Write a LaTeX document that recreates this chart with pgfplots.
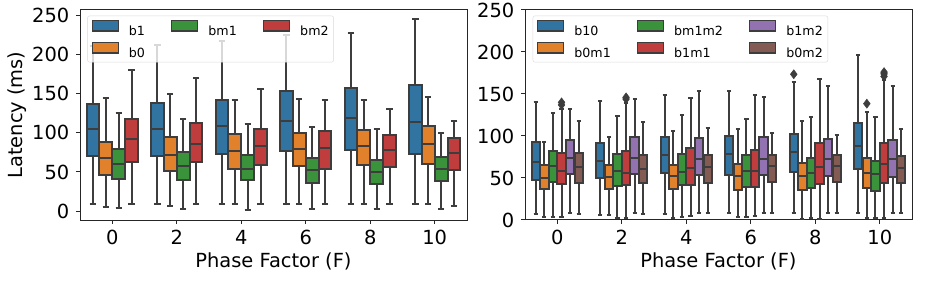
\documentclass[border=0pt]{standalone}
\usepackage{pgfplots}
\pgfplotsset{compat=1.18}
\usepgfplotslibrary{statistics}
\usepackage{fontspec}
\setmainfont{DejaVu Sans}
\definecolor{cB}{RGB}{50,116,161}
\definecolor{cO}{RGB}{225,129,44}
\definecolor{cG}{RGB}{58,146,58}
\definecolor{cR}{RGB}{192,61,62}
\definecolor{cP}{RGB}{147,114,178}
\definecolor{cBr}{RGB}{132,91,83}
\definecolor{edge}{RGB}{61,61,61}
\definecolor{spine}{RGB}{38,38,38}
\pgfplotsset{
  common/.style={
    scale only axis, width=387bp, height=210bp,
    xmin=-0.5, xmax=5.5, xtick={0,1,2,3,4,5}, xticklabels={0,2,4,6,8,10},
    ytick={0,50,100,150,200,250},
    tick align=outside, xtick pos=bottom, ytick pos=left,
    major tick length=4bp,
    every tick/.style={spine, line width=1bp},
    axis line style={spine, line width=1bp},
    /pgf/number format/assume math mode=true,
    ticklabel style={font=\fontsize{19.5}{22}\selectfont},
    xticklabel style={anchor=north, inner sep=0pt, yshift=-6bp},
    yticklabel style={anchor=east, inner sep=0pt, xshift=-6.5bp},
    label style={font=\fontsize{19.5}{22}\selectfont},
    xlabel={Phase Factor (F)},
    xlabel style={at={(axis description cs:0.5,-0.157)}, anchor=north, inner sep=0pt},
    legend cell align=left,
    legend image code/.code={\draw[##1,draw=edge,line width=1.4bp,sharp corners,fill opacity=1,draw opacity=1] (0bp,-0.6bp) rectangle (26bp,9.7bp);},
    legend style={
      anchor=north west, draw=black!15, rounded corners=2bp, fill=white, fill opacity=0.8, text opacity=1,
      font=\fontsize{12.7}{15}\selectfont, inner xsep=4bp, inner ysep=4bp,
      column sep=0pt, row sep=6bp,
      /tikz/every odd column/.append style={column sep=9bp},
      /tikz/every even column/.append style={column sep=25bp},
      nodes={inner sep=1bp, text height=9.5bp, text depth=0bp},
    },
  },
  bx/.style={boxplot/draw direction=y, draw=edge, line width=2bp, mark=diamond*, mark size=4.5bp,
    mark options={solid, fill=edge, draw=edge, line width=0.5bp},
    boxplot/every box/.style={draw=edge, line width=2bp},
    boxplot/every whisker/.style={draw=edge, line width=2bp},
    boxplot/every median/.style={draw=edge, line width=2bp}},
  bxl/.style={bx, boxplot/box extend=0.196, boxplot/whisker extend=0.098},
  bxr/.style={bx, boxplot/box extend=0.1307, boxplot/whisker extend=0.0653},
}
\begin{document}
\begin{tikzpicture}
\useasboundingbox (0bp,0bp) rectangle (928bp,288bp);
% ---------------- left panel ----------------
\begin{axis}[common, at={(80bp,68bp)}, anchor=south west,
  ymin=-11.5, ymax=257.4, ylabel={Latency (ms)},
  ylabel style={at={(axis description cs:-0.1615,0.5)}, anchor=center, inner sep=0pt},
  legend columns=3,
  legend style={at={(axis description cs:0.019,0.973)}}]
\addlegendimage{fill=cB}\addlegendentry{b1}
\addlegendimage{fill=cG}\addlegendentry{bm1}
\addlegendimage{fill=cR}\addlegendentry{bm2}
\addlegendimage{fill=cO}\addlegendentry{b0}
% F = 0
\addplot[bxl,fill=cB,boxplot prepared={draw position=-0.3,lower whisker=8.6,lower quartile=70.4,median=104.6,upper quartile=137,upper whisker=211}] coordinates {};
\addplot[bxl,fill=cO,boxplot prepared={draw position=-0.1,lower whisker=5.5,lower quartile=46.5,median=67.9,upper quartile=88,upper whisker=144.3}] coordinates {};
\addplot[bxl,fill=cG,boxplot prepared={draw position=0.1,lower whisker=4.2,lower quartile=40.6,median=60.2,upper quartile=79.4,upper whisker=125.9}] coordinates {};
\addplot[bxl,fill=cR,boxplot prepared={draw position=0.3,lower whisker=8.6,lower quartile=62.7,median=91.8,upper quartile=118.2,upper whisker=180.1}] coordinates {};
% F = 2
\addplot[bxl,fill=cB,boxplot prepared={draw position=0.7,lower whisker=8.6,lower quartile=70.4,median=104.6,upper quartile=138.3,upper whisker=212.5}] coordinates {};
\addplot[bxl,fill=cO,boxplot prepared={draw position=0.9,lower whisker=6.8,lower quartile=51.6,median=71.7,upper quartile=94.8,upper whisker=149.4}] coordinates {};
\addplot[bxl,fill=cG,boxplot prepared={draw position=1.1,lower whisker=2.6,lower quartile=39.3,median=58,upper quartile=75.5,upper whisker=117.5}] coordinates {};
\addplot[bxl,fill=cR,boxplot prepared={draw position=1.3,lower whisker=8.6,lower quartile=62.7,median=86.2,upper quartile=112.7,upper whisker=170.3}] coordinates {};
% F = 4
\addplot[bxl,fill=cB,boxplot prepared={draw position=1.7,lower whisker=8.6,lower quartile=73.4,median=108.4,upper quartile=142.5,upper whisker=218}] coordinates {};
\addplot[bxl,fill=cO,boxplot prepared={draw position=1.9,lower whisker=8.6,lower quartile=53.8,median=77.2,upper quartile=98.2,upper whisker=142.1}] coordinates {};
\addplot[bxl,fill=cG,boxplot prepared={draw position=2.1,lower whisker=1.7,lower quartile=39.3,median=54.2,upper quartile=71.3,upper whisker=111.8}] coordinates {};
\addplot[bxl,fill=cR,boxplot prepared={draw position=2.3,lower whisker=8.6,lower quartile=59.3,median=83.7,upper quartile=104.6,upper whisker=156.6}] coordinates {};
% F = 6
\addplot[bxl,fill=cB,boxplot prepared={draw position=2.7,lower whisker=8.6,lower quartile=77.2,median=115.6,upper quartile=153.2,upper whisker=226}] coordinates {};
\addplot[bxl,fill=cO,boxplot prepared={draw position=2.9,lower whisker=8.6,lower quartile=57.2,median=79.8,upper quartile=100.3,upper whisker=143.4}] coordinates {};
\addplot[bxl,fill=cG,boxplot prepared={draw position=3.1,lower whisker=3,lower quartile=35.8,median=52.5,upper quartile=68.2,upper whisker=107.2}] coordinates {};
\addplot[bxl,fill=cR,boxplot prepared={draw position=3.3,lower whisker=8.6,lower quartile=53.8,median=80.2,upper quartile=102.8,upper whisker=142.5}] coordinates {};
% F = 8
\addplot[bxl,fill=cB,boxplot prepared={draw position=3.7,lower whisker=8.6,lower quartile=78.5,median=118.7,upper quartile=157.9,upper whisker=227.5}] coordinates {};
\addplot[bxl,fill=cO,boxplot prepared={draw position=3.9,lower whisker=8.6,lower quartile=59.3,median=82.8,upper quartile=104.1,upper whisker=142.5}] coordinates {};
\addplot[bxl,fill=cG,boxplot prepared={draw position=4.1,lower whisker=3,lower quartile=34.6,median=50.3,upper quartile=65.7,upper whisker=104.6}] coordinates {};
\addplot[bxl,fill=cR,boxplot prepared={draw position=4.3,lower whisker=8.6,lower quartile=56.8,median=78.1,upper quartile=97.7,upper whisker=130.6}] coordinates {};
% F = 10
\addplot[bxl,fill=cB,boxplot prepared={draw position=4.7,lower whisker=8.6,lower quartile=73.4,median=114,upper quartile=161.3,upper whisker=245.8}] coordinates {};
\addplot[bxl,fill=cO,boxplot prepared={draw position=4.9,lower whisker=8.6,lower quartile=59.8,median=85.8,upper quartile=108.8,upper whisker=146}] coordinates {};
\addplot[bxl,fill=cG,boxplot prepared={draw position=5.1,lower whisker=3,lower quartile=38.4,median=54.2,upper quartile=68.8,upper whisker=99.9}] coordinates {};
\addplot[bxl,fill=cR,boxplot prepared={draw position=5.3,lower whisker=6.8,lower quartile=52.9,median=73.9,upper quartile=93.9,upper whisker=115.2}] coordinates {};
\end{axis}
% ---------------- right panel ----------------
\begin{axis}[common, at={(525bp,68bp)}, anchor=south west,
  ymin=0, ymax=250,
  legend columns=3,
  legend style={at={(axis description cs:0.02,0.973)}}]
\addlegendimage{fill=cB}\addlegendentry{b10}
\addlegendimage{fill=cG}\addlegendentry{bm1m2}
\addlegendimage{fill=cP}\addlegendentry{b1m2}
\addlegendimage{fill=cO}\addlegendentry{b0m1}
\addlegendimage{fill=cR}\addlegendentry{b1m1}
\addlegendimage{fill=cBr}\addlegendentry{b0m2}
% F = 0
\addplot[bxr,fill=cB,boxplot prepared={draw position=-0.3333,lower whisker=7.2,lower quartile=47.8,median=69.6,upper quartile=93.2,upper whisker=140.5}] coordinates {};
\addplot[bxr,fill=cO,boxplot prepared={draw position=-0.2,lower whisker=3.9,lower quartile=36.5,median=50.2,upper quartile=66,upper whisker=93.2}] coordinates {};
\addplot[bxr,fill=cG,boxplot prepared={draw position=-0.0667,lower whisker=3.9,lower quartile=44.9,median=64,upper quartile=81.9,upper whisker=127.8}] coordinates {};
\addplot[bxr,fill=cR,boxplot prepared={draw position=0.0667,lower whisker=3.9,lower quartile=42.5,median=58.5,upper quartile=79.2,upper whisker=132}] coordinates {(0,137) (0,140)};
\addplot[bxr,fill=cP,boxplot prepared={draw position=0.2,lower whisker=8.4,lower quartile=54.9,median=73.6,upper quartile=95.5,upper whisker=132.6}] coordinates {};
\addplot[bxr,fill=cBr,boxplot prepared={draw position=0.3333,lower whisker=7.2,lower quartile=43.7,median=63.3,upper quartile=80,upper whisker=117.8}] coordinates {};
% F = 2
\addplot[bxr,fill=cB,boxplot prepared={draw position=0.6667,lower whisker=6,lower quartile=50.2,median=70.8,upper quartile=92,upper whisker=141.6}] coordinates {};
\addplot[bxr,fill=cO,boxplot prepared={draw position=0.8,lower whisker=6,lower quartile=37,median=51.7,upper quartile=66,upper whisker=98.7}] coordinates {};
\addplot[bxr,fill=cG,boxplot prepared={draw position=0.9333,lower whisker=2.7,lower quartile=40.6,median=58.9,upper quartile=78.4,upper whisker=123.4}] coordinates {};
\addplot[bxr,fill=cR,boxplot prepared={draw position=1.0667,lower whisker=2.7,lower quartile=41.3,median=56.1,upper quartile=81.6,upper whisker=139}] coordinates {(1,144) (1,146)};
\addplot[bxr,fill=cP,boxplot prepared={draw position=1.2,lower whisker=8.7,lower quartile=54.9,median=73.6,upper quartile=98.3,upper whisker=143.7}] coordinates {};
\addplot[bxr,fill=cBr,boxplot prepared={draw position=1.3333,lower whisker=7.2,lower quartile=44.5,median=60.4,upper quartile=77.6,upper whisker=116.2}] coordinates {};
% F = 4
\addplot[bxr,fill=cB,boxplot prepared={draw position=1.6667,lower whisker=7.2,lower quartile=55.7,median=77.6,upper quartile=98.3,upper whisker=149.3}] coordinates {};
\addplot[bxr,fill=cO,boxplot prepared={draw position=1.8,lower whisker=2.7,lower quartile=36.5,median=52.1,upper quartile=65.2,upper whisker=106.3}] coordinates {};
\addplot[bxr,fill=cG,boxplot prepared={draw position=1.9333,lower whisker=3.9,lower quartile=42.2,median=56.9,upper quartile=78.4,upper whisker=124.6}] coordinates {};
\addplot[bxr,fill=cR,boxplot prepared={draw position=2.0667,lower whisker=4.8,lower quartile=42.2,median=62.1,upper quartile=85.5,upper whisker=144.9}] coordinates {};
\addplot[bxr,fill=cP,boxplot prepared={draw position=2.2,lower whisker=8.7,lower quartile=54.1,median=73.2,upper quartile=97.1,upper whisker=153.6}] coordinates {};
\addplot[bxr,fill=cBr,boxplot prepared={draw position=2.3333,lower whisker=7.9,lower quartile=44.5,median=62.8,upper quartile=76.8,upper whisker=109.9}] coordinates {};
% F = 6
\addplot[bxr,fill=cB,boxplot prepared={draw position=2.6667,lower whisker=8.7,lower quartile=54.1,median=78,upper quartile=99.5,upper whisker=153.2}] coordinates {};
\addplot[bxr,fill=cO,boxplot prepared={draw position=2.8,lower whisker=3.1,lower quartile=35.4,median=52.9,upper quartile=66.9,upper whisker=108.7}] coordinates {};
\addplot[bxr,fill=cG,boxplot prepared={draw position=2.9333,lower whisker=3.1,lower quartile=38.9,median=58.5,upper quartile=77.6,upper whisker=120.1}] coordinates {};
\addplot[bxr,fill=cR,boxplot prepared={draw position=3.0667,lower whisker=5.1,lower quartile=38.9,median=58.5,upper quartile=82.8,upper whisker=149.3}] coordinates {};
\addplot[bxr,fill=cP,boxplot prepared={draw position=3.2,lower whisker=8.7,lower quartile=53.3,median=73.2,upper quartile=98.3,upper whisker=146.4}] coordinates {};
\addplot[bxr,fill=cBr,boxplot prepared={draw position=3.3333,lower whisker=8.7,lower quartile=44.9,median=64,upper quartile=76.8,upper whisker=103.4}] coordinates {};
% F = 8
\addplot[bxr,fill=cB,boxplot prepared={draw position=3.6667,lower whisker=8.7,lower quartile=56.9,median=80.4,upper quartile=102.2,upper whisker=164.3}] coordinates {(3,173.5)};
\addplot[bxr,fill=cO,boxplot prepared={draw position=3.8,lower whisker=0.8,lower quartile=35.4,median=52.9,upper quartile=67.6,upper whisker=117.8}] coordinates {};
\addplot[bxr,fill=cG,boxplot prepared={draw position=3.9333,lower whisker=2.7,lower quartile=38.2,median=55.7,upper quartile=73.6,upper whisker=122.2}] coordinates {};
\addplot[bxr,fill=cR,boxplot prepared={draw position=4.0667,lower whisker=0.8,lower quartile=43,median=63.3,upper quartile=92,upper whisker=167.6}] coordinates {};
\addplot[bxr,fill=cP,boxplot prepared={draw position=4.2,lower whisker=8.7,lower quartile=52.1,median=72.8,upper quartile=95.9,upper whisker=159.6}] coordinates {};
\addplot[bxr,fill=cBr,boxplot prepared={draw position=4.3333,lower whisker=8.7,lower quartile=45.4,median=64.5,upper quartile=76.8,upper whisker=101.5}] coordinates {};
% F = 10
\addplot[bxr,fill=cB,boxplot prepared={draw position=4.6667,lower whisker=8.7,lower quartile=60.4,median=87.5,upper quartile=115,upper whisker=197}] coordinates {};
\addplot[bxr,fill=cO,boxplot prepared={draw position=4.8,lower whisker=2.7,lower quartile=37.7,median=56.5,upper quartile=74,upper whisker=128}] coordinates {(4,138.5)};
\addplot[bxr,fill=cG,boxplot prepared={draw position=4.9333,lower whisker=2.7,lower quartile=34.6,median=54.9,upper quartile=70,upper whisker=122.2}] coordinates {};
\addplot[bxr,fill=cR,boxplot prepared={draw position=5.0667,lower whisker=2.7,lower quartile=43.7,median=66.4,upper quartile=92,upper whisker=166.4}] coordinates {(5,171) (5,174) (5,176)};
\addplot[bxr,fill=cP,boxplot prepared={draw position=5.2,lower whisker=8.7,lower quartile=50.9,median=73.2,upper quartile=94.7,upper whisker=159.6}] coordinates {};
\addplot[bxr,fill=cBr,boxplot prepared={draw position=5.3333,lower whisker=7.9,lower quartile=43.7,median=61.6,upper quartile=76.4,upper whisker=107.8}] coordinates {};
\end{axis}
\end{tikzpicture}
\end{document}
